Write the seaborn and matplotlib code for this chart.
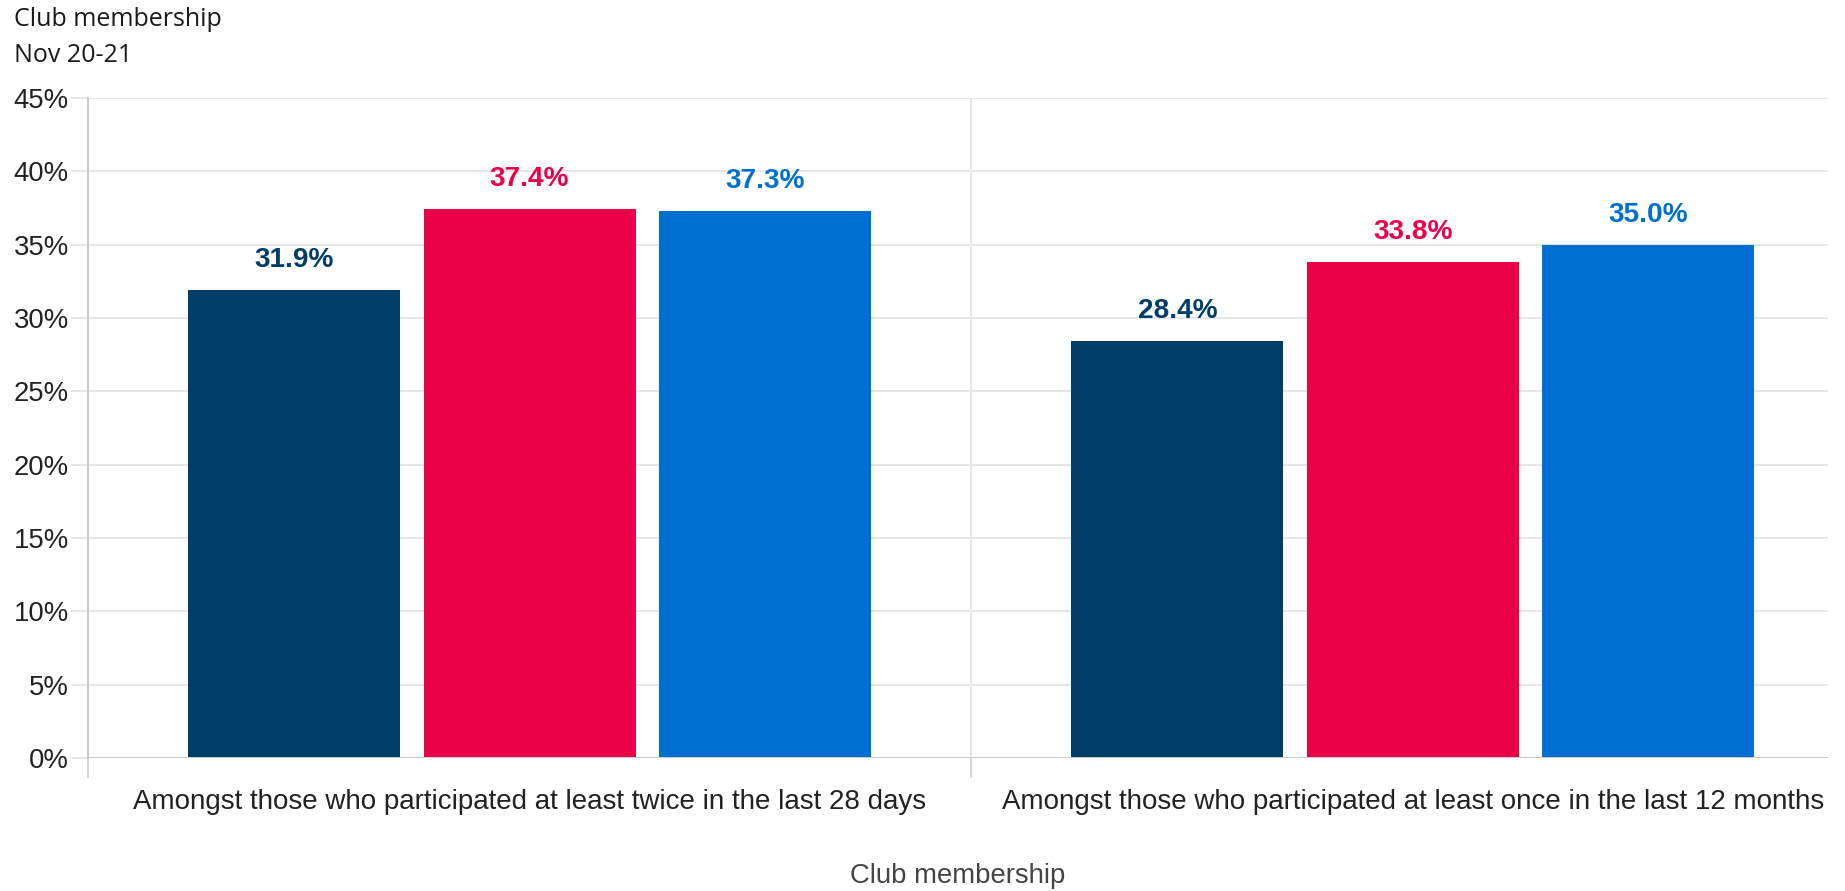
import matplotlib
matplotlib.use("Agg")
import matplotlib.pyplot as plt
import seaborn as sns
import pandas as pd
from matplotlib.ticker import FixedLocator, FuncFormatter

# ---- data ----
categories = [
    "Amongst those who participated at least twice in the last 28 days",
    "Amongst those who participated at least once in the last 12 months",
]
series = ["Series 1", "Series 2", "Series 3"]
values_series1 = [31.9, 28.4]
values_series2 = [37.4, 33.8]
values_series3 = [37.3, 35.0]
colors = ["#003e69", "#ec0049", "#006fd4"]
title_lines = ["Club membership", "Nov 20-21"]
x_label = "Club membership"
y_ticks = [0, 5, 10, 15, 20, 25, 30, 35, 40, 45]

rows = []
for s, vals in zip(series, [values_series1, values_series2, values_series3]):
    for c, v in zip(categories, vals):
        rows.append({"category": c, "series": s, "value": v})
df = pd.DataFrame(rows)

sns.set_theme(style="white")
plt.rcParams["font.family"] = ["Liberation Sans", "DejaVu Sans"]

DPI = 100
fig = plt.figure(figsize=(18.45, 8.91), dpi=DPI)
ax = fig.add_axes([88 / 1845, 133 / 891, 1740 / 1845, 660 / 891])

sns.barplot(data=df, x="category", y="value", hue="series", order=categories,
            hue_order=series, palette=colors, width=0.8, gap=0.1,
            saturation=1, legend=False, ax=ax, errorbar=None, linewidth=0)

px = 72 / DPI  # points per pixel

ax.set_ylim(0, 45)
ax.set_xlim(-0.5, 1.47)
ax.yaxis.set_major_locator(FixedLocator(y_ticks))
ax.yaxis.set_major_formatter(FuncFormatter(lambda v, p: f"{v:.0f}%"))
ax.grid(axis="y", color="#e6e6e6", linewidth=2 * px)
ax.set_axisbelow(True)
ax.axvline(0.5, color="#e6e6e6", linewidth=2 * px, zorder=0)
ax.axhline(0, color="#c8c8c8", linewidth=2 * px, zorder=3)

for side in ["top", "right", "bottom"]:
    ax.spines[side].set_visible(False)
ax.spines["left"].set_color("#c8c8c8")
ax.spines["left"].set_linewidth(2 * px)

ax.tick_params(axis="y", which="major", length=17 * px, width=2 * px,
               color="#e6e6e6", pad=2 * px, labelsize=27.5 * px,
               labelcolor="#222222", left=True)
ax.tick_params(axis="x", which="major", length=0, pad=31 * px,
               labelsize=27.8 * px, labelcolor="#222222")
ax.xaxis.set_minor_locator(FixedLocator([-0.5, 0.5]))
ax.tick_params(axis="x", which="minor", length=20 * px, width=2 * px,
               color="#d6d6d6", bottom=True)

ax.set_ylabel("")
ax.set_xlabel(x_label, fontsize=27.5 * px, color="#444444", labelpad=48 * px)

# bar value labels
for container, col in zip(ax.containers, colors):
    labels = [f"{b.get_height():.1f}%" for b in container]
    ax.bar_label(container, labels=labels, padding=17 * px, color=col,
                 fontsize=28 * px, fontweight="bold")

# title lines
fig.text(14 / 1845, 1 - 20 / 891, title_lines[0], fontsize=25 * px,
         family=["Open Sans", "DejaVu Sans"], color="#1a1a1a", va="center", ha="left")
fig.text(14 / 1845, 1 - 55 / 891, title_lines[1], fontsize=25 * px,
         family=["Open Sans", "DejaVu Sans"], color="#1a1a1a", va="center", ha="left")

fig.savefig("out.png", dpi=DPI)
